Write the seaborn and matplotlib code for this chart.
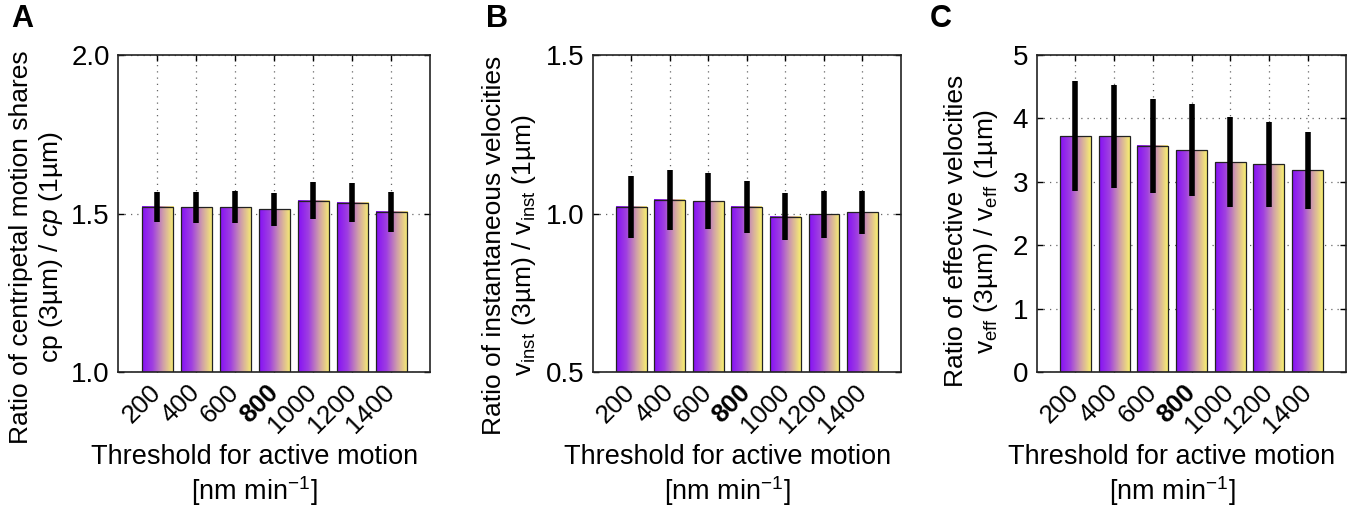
import numpy as np
import pandas as pd
import matplotlib
matplotlib.use('Agg')
import matplotlib.pyplot as plt
from matplotlib.colors import LinearSegmentedColormap
import seaborn as sns

# Schwellenwerte (x-Achse)
thresholds = ['200', '400', '600', '800', '1000', '1200', '1400']

# A: Anteil zentripetaler Bewegung
cp_mean = [1.521, 1.519, 1.520, 1.514, 1.540, 1.534, 1.505]
cp_err = [0.047, 0.050, 0.051, 0.052, 0.058, 0.062, 0.062]

# B: instantane Geschwindigkeit
vinst_mean = [1.021, 1.043, 1.039, 1.022, 0.990, 0.998, 1.004]
vinst_err = [0.098, 0.095, 0.088, 0.082, 0.075, 0.074, 0.068]

# C: effektive Geschwindigkeit
veff_mean = [3.72, 3.72, 3.57, 3.50, 3.31, 3.28, 3.18]
veff_err = [0.87, 0.81, 0.74, 0.72, 0.71, 0.67, 0.61]

sns.set_style('ticks')
plt.rcParams['font.family'] = ['Liberation Sans', 'DejaVu Sans']
plt.rcParams['mathtext.fontset'] = 'custom'
plt.rcParams['mathtext.rm'] = 'Liberation Sans'
plt.rcParams['mathtext.it'] = 'Liberation Sans:italic'
plt.rcParams['text.color'] = 'black'
plt.rcParams['axes.labelcolor'] = 'black'

grad_cmap = LinearSegmentedColormap.from_list('pg', ['#8510f5', '#a040e0', '#d0a0a8', '#f8f070'])


def draw_panel(ax, means, errs, ylim, yticks, ytlabels, ylabel, letter, label_x, label_y):
    df = pd.DataFrame({'threshold': thresholds, 'value': means})
    sns.barplot(data=df, x='threshold', y='value', ax=ax, color='white',
                edgecolor='#222222', linewidth=0.9, width=0.8, errorbar=None)

    # Farbverlauf in jedem Balken (nur sichtbarer Teil)
    grad = np.linspace(0, 1, 256).reshape(1, -1)
    for p in ax.patches:
        x0, y0 = p.get_x(), p.get_y()
        w, h = p.get_width(), p.get_height()
        p.set_facecolor('none')
        p.set_zorder(3)
        ax.imshow(grad, cmap=grad_cmap, aspect='auto',
                  extent=(x0, x0 + w, max(y0, ylim[0]), y0 + h), zorder=2)

    ax.errorbar(np.arange(len(means)), means, yerr=errs, fmt='none',
                ecolor='black', elinewidth=4, capsize=0, zorder=4)

    ax.set_xlim(-1, len(means))
    ax.set_ylim(*ylim)
    ax.set_yticks(yticks)
    ax.set_yticklabels(ytlabels)
    ax.set_xticks(np.arange(len(means)))
    ax.set_xticklabels(thresholds, rotation=45, ha='right', va='center',
                       rotation_mode='anchor')
    for lab in ax.get_xticklabels():
        if lab.get_text() == '800':
            lab.set_fontweight('bold')

    ax.set_axisbelow(True)
    ax.grid(True, linestyle=(0, (1, 4)), color='#666666', linewidth=0.9)
    ax.tick_params(direction='in', length=4, width=1, top=True, right=True,
                   pad=6, colors='black')
    ax.tick_params(axis='y', labelsize=20)
    ax.tick_params(axis='x', labelsize=18.5, pad=12)
    for s in ax.spines.values():
        s.set_visible(True)
        s.set_linewidth(1.2)
        s.set_color('#222222')

    ax.set_ylabel(ylabel, fontsize=19, linespacing=1.2)
    ax.yaxis.set_label_coords(label_x, label_y)
    ax.set_xlabel('Threshold for active motion\n[nm min$^{-1}$]', fontsize=19.5,
                  linespacing=1.15, va='top')
    ax.xaxis.set_label_coords(0.437, -0.228)
    ax.text(-0.345, 1.16, letter, transform=ax.transAxes, fontsize=22,
            fontweight='bold', va='top', ha='left')


fig = plt.figure(figsize=(13.49, 5.08), dpi=100)
ax_a = fig.add_axes([0.0877, 0.2677, 0.2311, 0.624])
ax_b = fig.add_axes([0.4394, 0.2677, 0.2285, 0.624])
ax_c = fig.add_axes([0.7685, 0.2677, 0.2295, 0.624])

draw_panel(ax_a, cp_mean, cp_err, (1.0, 2.0), [1.0, 1.5, 2.0], ['1.0', '1.5', '2.0'],
           'Ratio of centripetal motion shares\ncp (3µm) / $\\it{cp}$ (1µm)', 'A',
           -0.17, 0.394)
draw_panel(ax_b, vinst_mean, vinst_err, (0.5, 1.5), [0.5, 1.0, 1.5], ['0.5', '1.0', '1.5'],
           'Ratio of instantaneous velocities\n$\\mathrm{v_{inst}}$ (3µm) / $\\mathrm{v_{inst}}$ (1µm)',
           'B', -0.178, 0.40)
draw_panel(ax_c, veff_mean, veff_err, (0, 5), [0, 1, 2, 3, 4, 5], ['0', '1', '2', '3', '4', '5'],
           'Ratio of effective velocities\n$\\mathrm{v_{eff}}$ (3µm) / $\\mathrm{v_{eff}}$ (1µm)',
           'C', -0.118, 0.445)

fig.savefig('out.png', dpi=100, facecolor='white')
